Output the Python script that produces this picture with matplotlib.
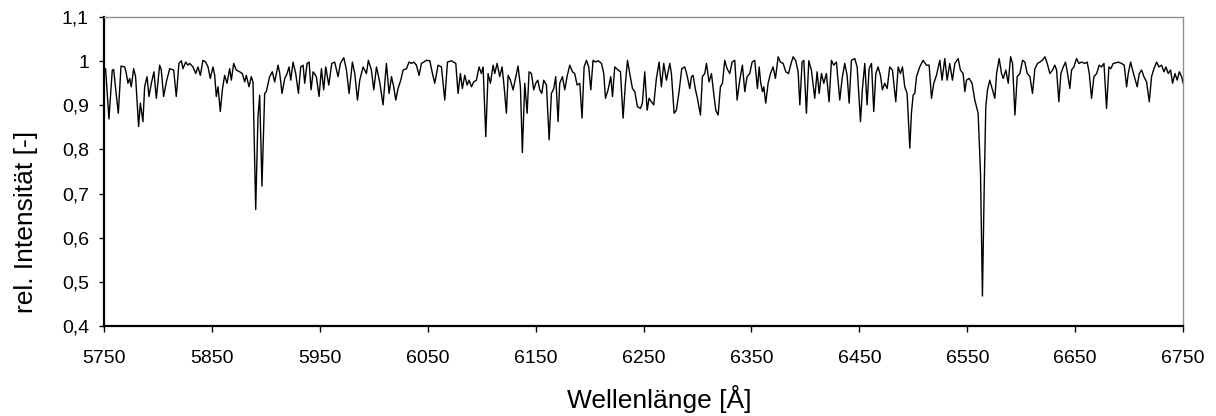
import matplotlib
matplotlib.use("Agg")
import matplotlib.pyplot as plt

# spectrum (wavelength in Angstrom, relative intensity)
wavelength = [
    5750.6, 5751.5, 5754.6, 5757.7, 5759.0, 5760.8, 5763.3, 5765.8, 5769.2, 5770.7,
    5772.2, 5773.8, 5775.3, 5777.5, 5779.3, 5782.1, 5783.7, 5786.1, 5787.7, 5789.9,
    5791.7, 5793.9, 5796.3, 5798.5, 5801.6, 5803.1, 5805.3, 5807.8, 5810.9, 5814.6,
    5817.0, 5819.5, 5821.7, 5823.2, 5825.7, 5827.8, 5829.4, 5832.5, 5835.0, 5837.1,
    5839.3, 5841.7, 5844.2, 5846.4, 5848.5, 5851.0, 5852.6, 5854.1, 5855.7, 5857.8,
    5859.7, 5861.8, 5864.0, 5866.5, 5868.0, 5870.2, 5872.6, 5875.7, 5878.2, 5880.4,
    5881.9, 5884.4, 5886.5, 5888.1, 5890.6, 5892.7, 5894.3, 5896.4, 5898.9, 5900.4,
    5903.5, 5906.0, 5908.2, 5911.3,
    5912.9, 5915.0, 5917.5, 5919.7, 5921.5, 5923.1, 5925.2, 5927.7, 5930.2, 5932.3,
    5934.5, 5936.0, 5938.2, 5940.1, 5941.9, 5943.8, 5946.8, 5949.3, 5951.5, 5953.6,
    5955.5, 5958.3, 5961.1, 5963.8, 5966.9, 5969.1, 5972.2, 5974.7, 5977.1, 5980.2,
    5982.4, 5984.9, 5987.0, 5990.1, 5993.2, 5995.0, 5997.8, 6000.0, 6002.5, 6005.5,
    6008.6, 6011.7, 6014.2, 6016.4, 6018.5, 6020.4, 6022.5, 6025.0, 6027.2, 6030.3,
    6032.7, 6034.9, 6037.1, 6039.5, 6042.0, 6044.2, 6046.3, 6048.8, 6051.9, 6054.4,
    6056.5, 6059.6, 6062.7, 6065.8, 6068.3, 6072.0,
    6076.0, 6078.1, 6080.3, 6082.1, 6084.3, 6086.5, 6088.3, 6090.5, 6092.6, 6095.1,
    6097.6, 6099.7, 6101.3, 6103.8, 6105.9, 6108.1, 6110.6, 6112.1, 6114.3, 6116.7,
    6118.9, 6120.8, 6122.9, 6124.5, 6126.6, 6129.1, 6131.3, 6133.7, 6135.9, 6137.7,
    6139.9, 6142.1, 6143.9, 6146.1, 6148.2, 6150.1, 6152.0, 6153.8, 6155.7, 6157.5,
    6160.0, 6162.5, 6164.6, 6166.8, 6168.6, 6170.8, 6172.3, 6174.8, 6177.0, 6179.1,
    6181.6, 6184.1, 6186.2, 6188.4, 6190.9, 6193.0, 6194.9, 6197.1, 6199.2, 6201.1,
    6203.2, 6205.4, 6207.9, 6211.0, 6213.1, 6214.7, 6217.1, 6219.6, 6221.2, 6223.3,
    6226.4, 6228.6, 6231.0, 6233.2, 6235.1, 6237.2, 6239.7, 6241.9, 6244.3,
    6247.1, 6248.9, 6251.1, 6253.3, 6255.1, 6257.3, 6259.4, 6261.9, 6264.4, 6266.5,
    6268.7, 6271.2, 6274.3, 6275.8, 6278.3, 6280.4, 6282.9, 6285.4, 6288.2, 6290.3,
    6292.8, 6294.4, 6295.9, 6298.1, 6299.9, 6302.7, 6304.5, 6306.7, 6308.3, 6310.7,
    6312.9, 6315.0, 6316.9, 6319.1, 6321.2, 6323.1, 6325.2, 6327.4, 6329.9, 6332.0,
    6334.5, 6336.7, 6339.1, 6341.6, 6343.8, 6345.9, 6348.4, 6350.6, 6353.0, 6355.5,
    6357.1, 6358.6, 6360.2, 6361.4, 6363.2, 6365.4, 6367.6, 6370.0, 6372.2, 6374.7,
    6376.8, 6379.3, 6381.8, 6384.3, 6386.7, 6388.6, 6391.0, 6393.2, 6394.8, 6396.9,
    6398.5, 6400.9, 6403.1,
    6405.5, 6408.6, 6410.8, 6412.7, 6414.8, 6417.0, 6419.4, 6421.9, 6424.1, 6426.2,
    6428.7, 6431.8, 6434.0, 6436.4, 6438.6, 6440.5, 6442.6, 6445.7, 6447.9, 6451.0,
    6452.8, 6455.0, 6457.1, 6459.0, 6461.2, 6463.3, 6465.2, 6467.3, 6469.5, 6471.3,
    6473.5, 6475.7, 6478.1, 6480.6, 6483.7, 6485.9, 6488.0, 6489.9, 6492.0, 6494.2,
    6496.7, 6498.2, 6499.8, 6501.3, 6502.9, 6505.9, 6509.0, 6512.1, 6514.6, 6516.8,
    6518.9, 6521.4, 6524.5, 6526.6, 6529.1, 6531.3, 6533.7, 6536.2, 6538.4, 6541.5,
    6543.6, 6546.1, 6547.7, 6549.2, 6551.7, 6554.4, 6556.9, 6560.0, 6562.2, 6564.0,
    6565.6, 6567.1, 6568.7, 6570.8,
    6575.5, 6577.1, 6579.5, 6581.7, 6583.3, 6585.7, 6587.9, 6590.1, 6591.9, 6594.1,
    6596.2, 6598.7, 6601.2, 6603.3, 6605.5, 6608.0, 6610.4, 6612.6, 6615.1, 6617.2,
    6619.4, 6621.9, 6624.0, 6626.5, 6629.0, 6631.1, 6632.7, 6634.8, 6636.7, 6638.9,
    6641.0, 6642.9, 6645.0, 6646.6, 6648.7, 6651.2, 6653.4, 6655.9, 6658.9, 6661.1,
    6663.0, 6665.1, 6667.3, 6669.8, 6672.2, 6674.4, 6676.6, 6679.0, 6681.2, 6683.0,
    6685.2, 6687.4, 6689.8, 6692.9, 6695.4, 6697.6, 6699.1, 6701.3, 6703.1, 6705.3,
    6707.4, 6709.3, 6711.5, 6713.6, 6716.1, 6718.6, 6720.7, 6722.9, 6725.4, 6727.5,
    6730.0, 6732.2, 6734.0, 6736.2, 6738.3, 6740.2, 6742.4, 6744.5, 6746.4, 6748.5,
    6750.0,
]

intensity = [
    0.983, 0.983, 0.869, 0.980, 0.981, 0.938, 0.882, 0.989, 0.987, 0.972,
    0.950, 0.961, 0.942, 0.983, 0.965, 0.852, 0.905, 0.863, 0.942, 0.965,
    0.920, 0.950, 0.976, 0.916, 0.991, 0.980, 0.920, 0.953, 0.983, 0.980,
    0.920, 0.995, 1.001, 0.983, 0.998, 0.991, 0.995, 0.987, 0.972, 0.987,
    0.968, 1.002, 0.998, 0.987, 0.961, 0.987, 0.968, 0.920, 0.942, 0.886,
    0.935, 0.968, 0.950, 0.983, 0.957, 0.995, 0.980, 0.976, 0.972, 0.953,
    0.968, 0.942, 0.965, 0.953, 0.664, 0.874, 0.923, 0.717, 0.927, 0.931,
    0.965, 0.976, 0.953, 0.991,
    0.972, 0.927, 0.961, 0.972, 0.987, 0.957, 0.998, 0.972, 0.927, 0.987,
    0.991, 0.950, 0.995, 0.998, 0.935, 0.976, 0.965, 0.920, 0.983, 0.935,
    0.987, 0.946, 0.995, 0.998, 0.965, 0.995, 1.008, 0.980, 0.927, 0.998,
    0.972, 0.912, 0.957, 0.987, 0.972, 1.002, 0.980, 0.935, 0.987, 0.953,
    0.901, 0.995, 0.927, 0.965, 0.942, 0.912, 0.938, 0.957, 0.980, 0.983,
    0.998, 0.995, 0.998, 0.991, 0.968, 0.995, 0.998, 1.002, 1.001, 0.972,
    0.950, 0.991, 0.987, 0.912, 0.998, 1.001,
    0.995, 0.927, 0.972, 0.938, 0.968, 0.946, 0.957, 0.942, 0.953, 0.957,
    0.987, 0.972, 0.987, 0.829, 0.972, 0.950, 0.991, 0.972, 0.995, 0.965,
    0.987, 0.942, 0.882, 0.968, 0.957, 0.935, 0.961, 0.989, 0.942, 0.793,
    0.950, 0.882, 0.976, 0.972, 0.935, 0.950, 0.957, 0.935, 0.927, 0.957,
    0.946, 0.822, 0.927, 0.938, 0.965, 0.863, 0.950, 0.965, 0.935, 0.965,
    0.991, 0.976, 0.972, 0.946, 0.950, 0.871, 0.987, 1.002, 0.987, 0.935,
    1.002, 0.998, 1.001, 0.995, 0.972, 0.916, 0.935, 0.965, 0.920, 0.987,
    0.980, 0.976, 0.871, 0.950, 1.002, 0.972, 0.938, 0.931, 0.897,
    0.893, 0.905, 0.976, 0.889, 0.916, 0.908, 0.901, 0.961, 0.998, 0.942,
    0.995, 0.957, 0.995, 0.972, 0.882, 0.889, 0.931, 0.983, 0.987, 0.968,
    0.938, 0.965, 0.968, 0.935, 0.916, 0.878, 0.965, 0.972, 0.995, 0.953,
    0.972, 0.927, 0.889, 0.878, 0.942, 0.950, 1.002, 0.983, 0.972, 0.998,
    1.002, 0.912, 0.957, 0.991, 0.931, 0.965, 0.972, 0.998, 1.002, 0.938,
    0.987, 0.950, 0.931, 0.942, 0.905, 0.950, 0.972, 0.987, 0.961, 1.010,
    0.998, 0.995, 0.976, 0.972, 0.995, 1.010, 1.001, 0.976, 0.901, 0.998,
    1.002, 0.882, 1.001,
    0.980, 0.916, 0.976, 0.927, 0.972, 0.950, 0.972, 0.908, 1.002, 0.991,
    0.998, 0.912, 0.961, 0.995, 0.968, 0.905, 1.002, 1.006, 0.987, 0.863,
    0.938, 0.995, 0.901, 0.983, 0.995, 0.886, 0.972, 0.987, 0.968, 0.935,
    0.950, 0.938, 0.987, 0.980, 0.908, 0.987, 0.972, 0.987, 0.942, 0.927,
    0.803, 0.882, 0.923, 0.927, 0.965, 0.987, 1.002, 0.991, 0.991, 0.916,
    0.950, 0.968, 1.002, 0.957, 1.006, 0.957, 0.995, 0.957, 0.995, 1.006,
    0.980, 0.972, 0.931, 0.957, 0.961, 0.950, 0.912, 0.882, 0.747, 0.468,
    0.709, 0.897, 0.935, 0.957,
    0.916, 0.972, 1.006, 0.972, 0.961, 0.980, 0.950, 1.010, 0.995, 0.878,
    0.965, 0.972, 1.002, 0.998, 0.972, 0.965, 0.927, 0.983, 0.995, 0.998,
    1.002, 1.010, 0.995, 0.972, 0.980, 0.991, 0.980, 0.908, 0.972, 0.987,
    0.998, 0.972, 0.938, 0.980, 0.987, 1.006, 0.995, 0.998, 0.995, 0.998,
    0.972, 0.916, 0.965, 0.972, 0.991, 0.987, 0.995, 0.893, 0.987, 0.983,
    0.995, 0.996, 0.998, 0.995, 0.991, 0.942, 0.972, 0.998, 0.980, 0.961,
    0.942, 0.972, 0.980, 0.965, 0.953, 0.908, 0.965, 0.983, 0.998, 0.987,
    0.991, 0.976, 0.987, 0.972, 0.980, 0.950, 0.972, 0.957, 0.976, 0.965,
    0.950,
]

x_ticks = [5750, 5850, 5950, 6050, 6150, 6250, 6350, 6450, 6550, 6650, 6750]
y_ticks = [0.4, 0.5, 0.6, 0.7, 0.8, 0.9, 1.0, 1.1]
y_tick_labels = ["0,4", "0,5", "0,6", "0,7", "0,8", "0,9", "1", "1,1"]

plt.rcParams["font.family"] = ["Liberation Sans", "DejaVu Sans"]

fig = plt.figure(figsize=(12.16, 4.16), dpi=100)
ax = fig.add_axes([0.0855, 0.2163, 0.8875, 0.7427])

ax.plot(wavelength, intensity, color="black", linewidth=1.0)

ax.set_xlim(5750, 6750)
ax.set_ylim(0.4, 1.1)
ax.set_xticks(x_ticks)
ax.set_xticklabels([str(t) for t in x_ticks])
ax.set_yticks(y_ticks)
ax.set_yticklabels(y_tick_labels)

ax.tick_params(axis="x", direction="out", length=4.5, width=1.0,
               labelsize=14, colors="black", pad=13)
ax.tick_params(axis="y", direction="out", length=3.8, width=1.0,
               labelsize=14, colors="black", pad=7)

# Excel style frame: heavy black left/bottom, thin grey top/right
for side in ["left", "bottom"]:
    ax.spines[side].set_color("black")
    ax.spines[side].set_linewidth(1.6)
for side in ["top", "right"]:
    ax.spines[side].set_color("#909090")
    ax.spines[side].set_linewidth(1.0)

# axis titles sit where the spreadsheet put them (not centred on the axes)
fig.text(0.542, 0.040, "Wellenlänge [Å]", fontsize=19, ha="center", va="center")
fig.text(0.0215, 0.466, "rel. Intensität [-]", fontsize=19, rotation=90,
         ha="center", va="center")

fig.savefig("out.png", dpi=100)
